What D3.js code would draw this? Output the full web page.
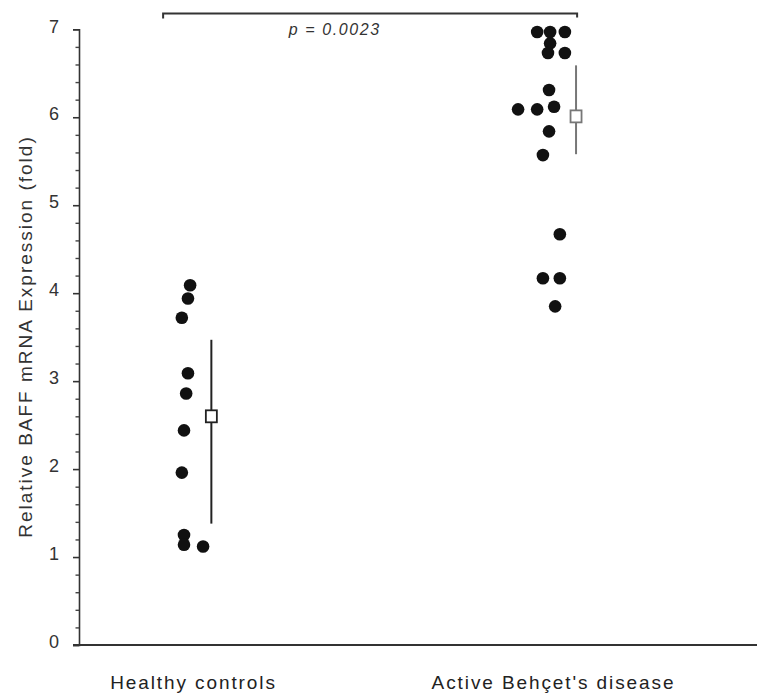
<!DOCTYPE html>
<html>
<head>
<meta charset="utf-8">
<script src="https://cdn.jsdelivr.net/npm/d3@7"></script>
<style>
  body { margin: 0; background: #fff; }
  svg { display: block; font-family: "Liberation Sans", Arial, sans-serif; }
</style>
</head>
<body>
<script>
// Values
const categories = ["Healthy controls", "Active Behçet's disease"];

const healthyValues = [4.09, 3.94, 3.72, 3.09, 2.86, 2.44, 1.96, 1.25, 1.14, 1.12];
// horizontal spread of the dots, in category units
const healthyJitter = [-0.008, -0.014, -0.031, -0.014, -0.019, -0.025, -0.031, -0.025, -0.025, 0.028];

const behcetValues = [6.97, 6.97, 6.97, 6.84, 6.73, 6.73, 6.31, 6.09, 6.09, 6.12, 5.84, 5.57, 4.67, 4.17, 4.17, 3.85];
const behcetJitter = [-0.044, -0.008, 0.033, -0.008, -0.014, 0.033, -0.011, -0.097, -0.044, 0.003, -0.011, -0.028, 0.019, -0.028, 0.019, 0.006];

// mean and error bar per group
const groupMeans = [2.60, 6.01];
const groupLow = [1.38, 5.58];
const groupHigh = [3.47, 6.59];
const meanJitter = [0.051, 0.064];

const yMajorTicks = [0, 1, 2, 3, 4, 5, 6, 7];
const pLabel = "p = 0.0023";
const bracket = {from: -0.083, to: 1.067, level: 7.18};

// Layout
const W = 757, H = 695;
const axisX = 79, axisRight = 757, axisTop = 29.3, axisBottom = 645;

const svg = d3.select("body").append("svg")
  .attr("width", W)
  .attr("height", H);

const y = d3.scaleLinear().domain([0, 7]).range([axisBottom, axisTop]);
// category units: 0 = healthy, 1 = Behcet
const x = d3.scaleLinear().domain([0, 1]).range([193, 553]);

// y axis, major ticks
const yAxis = svg.append("g")
  .attr("transform", `translate(${axisX},0)`)
  .call(d3.axisLeft(y).tickValues(yMajorTicks).tickSize(6).tickPadding(14).tickFormat(d3.format("d")));
yAxis.select(".domain").attr("stroke", "#333").attr("stroke-width", 1.6);
yAxis.selectAll(".tick line").attr("stroke", "#333").attr("stroke-width", 1.6);
yAxis.selectAll(".tick text")
  .attr("font-size", 18)
  .attr("fill", "#333")
  .attr("dy", "0.15em");

// minor ticks every 0.2
const minor = d3.range(0, 35).map(i => i * 0.2).filter(v => Math.abs(v - Math.round(v)) > 0.01);
const yMinor = svg.append("g")
  .attr("transform", `translate(${axisX},0)`)
  .call(d3.axisLeft(y).tickValues(minor).tickSize(3.5).tickFormat(""));
yMinor.select(".domain").remove();
yMinor.selectAll(".tick line").attr("stroke", "#444").attr("stroke-width", 1.4);

// x axis line (no ticks)
svg.append("line")
  .attr("x1", axisX - 6).attr("x2", axisRight)
  .attr("y1", y(0)).attr("y2", y(0))
  .attr("stroke", "#333").attr("stroke-width", 2);

// category labels
const xAxis = svg.append("g")
  .attr("transform", `translate(0,${y(0)})`)
  .call(d3.axisBottom(x).tickValues([0, 1]).tickSize(0).tickPadding(31).tickFormat(i => categories[i]));
xAxis.select(".domain").remove();
xAxis.selectAll(".tick text")
  .attr("font-size", 19)
  .attr("letter-spacing", "1.9px")
  .attr("fill", "#222");

// y axis title
svg.append("text")
  .attr("transform", `translate(32,${(135 + 538) / 2}) rotate(-90)`)
  .attr("text-anchor", "middle")
  .attr("font-size", 19)
  .attr("letter-spacing", "2px")
  .attr("fill", "#333")
  .text("Relative BAFF mRNA Expression (fold)");

// dots
const groups = [
  {values: healthyValues, jitter: healthyJitter, pos: 0},
  {values: behcetValues, jitter: behcetJitter, pos: 1}
];
const points = groups.flatMap(g => g.values.map((v, i) => ({v, xPos: g.pos + g.jitter[i]})));

svg.append("g").selectAll("circle")
  .data(points)
  .join("circle")
  .attr("cx", d => x(d.xPos))
  .attr("cy", d => y(d.v))
  .attr("r", 6.3)
  .attr("fill", "#111");

// error bars with mean squares
const barColors = ["#222", "#777"];
const stats = groupMeans.map((m, i) => ({mean: m, lo: groupLow[i], hi: groupHigh[i], xPos: i + meanJitter[i], idx: i}));

svg.append("g").selectAll("line")
  .data(stats)
  .join("line")
  .attr("x1", d => x(d.xPos)).attr("x2", d => x(d.xPos))
  .attr("y1", d => y(d.hi)).attr("y2", d => y(d.lo))
  .attr("stroke", d => barColors[d.idx])
  .attr("stroke-width", 2);

svg.append("g").selectAll("rect")
  .data(stats)
  .join("rect")
  .attr("x", d => x(d.xPos) - 5.5)
  .attr("y", d => y(d.mean) - 6)
  .attr("width", 11)
  .attr("height", 12)
  .attr("fill", "#fff")
  .attr("stroke", d => barColors[d.idx])
  .attr("stroke-width", 1.8);

// significance bracket
const bY = y(bracket.level);
svg.append("path")
  .attr("d", `M${x(bracket.from)},${bY + 5}V${bY}H${x(bracket.to)}V${bY + 4}`)
  .attr("fill", "none")
  .attr("stroke", "#333")
  .attr("stroke-width", 2);

svg.append("text")
  .attr("x", x(0.394))
  .attr("y", y(6.93))
  .attr("text-anchor", "middle")
  .attr("font-size", 16)
  .attr("font-style", "italic")
  .attr("letter-spacing", "1.6px")
  .attr("fill", "#333")
  .text(pLabel);
</script>
</body>
</html>
